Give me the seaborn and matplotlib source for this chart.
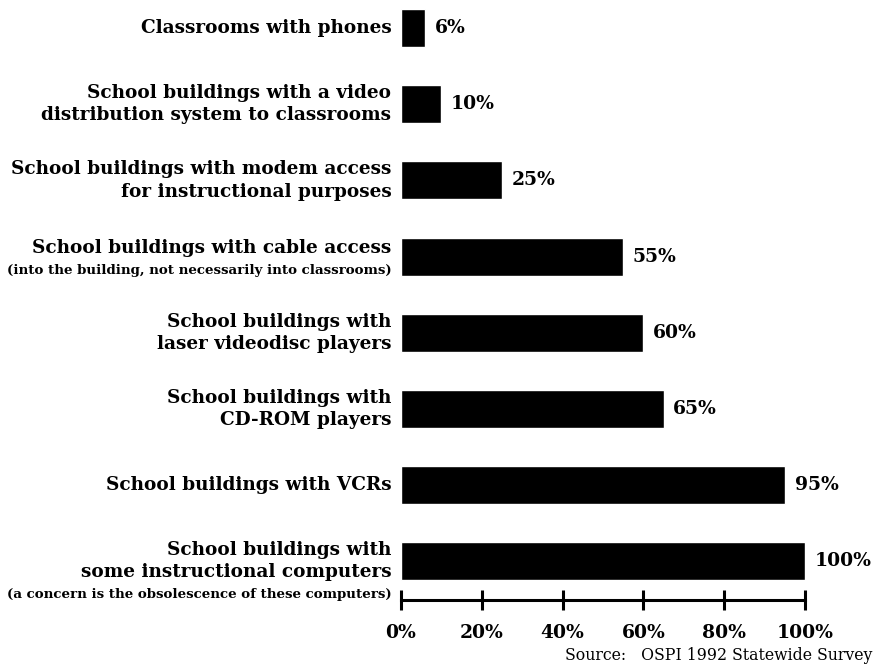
import matplotlib
matplotlib.use("Agg")
import matplotlib.pyplot as plt
import seaborn as sns
import pandas as pd

categories = [
    "Classrooms with phones",
    "School buildings with a video\ndistribution system to classrooms",
    "School buildings with modem access\nfor instructional purposes",
    "School buildings with cable access",
    "School buildings with\nlaser videodisc players",
    "School buildings with\nCD-ROM players",
    "School buildings with VCRs",
    "School buildings with\nsome instructional computers",
]
notes = [
    "", "", "",
    "(into the building, not necessarily into classrooms)",
    "", "", "",
    "(a concern is the obsolescence of these computers)",
]
values = [6, 10, 25, 55, 60, 65, 95, 100]
tick_values = [0, 20, 40, 60, 80, 100]
tick_labels = ["0%", "20%", "40%", "60%", "80%", "100%"]
source_text = "Source:   OSPI 1992 Statewide Survey"

df = pd.DataFrame({"cat": categories, "val": values})

sns.set_theme(style="white")
plt.rcParams["font.family"] = ["DejaVu Serif"]
plt.rcParams["text.color"] = "black"
plt.rcParams["xtick.color"] = "black"

fig = plt.figure(figsize=(8.75, 6.65), dpi=100)
ax = fig.add_axes([401 / 875, 65 / 665, 404 / 875, 600 / 665])

sns.barplot(data=df, y="cat", x="val", orient="h", color="black",
            width=0.5, saturation=1, ax=ax)

ax.set_xlim(0, 100)
ax.set_ylim(7.51, -0.37)
ax.set_ylabel("")
ax.set_xlabel("")
ax.set_yticks([])
for s in ["top", "right", "left"]:
    ax.spines[s].set_visible(False)
ax.spines["bottom"].set_color("black")
ax.spines["bottom"].set_linewidth(2.2)
ax.set_xticks(tick_values)
ax.set_xticklabels(tick_labels, fontsize=13.5, fontweight="bold", color="black")
ax.tick_params(axis="x", direction="inout", length=15, width=2.2,
               color="black", pad=10, bottom=True)

main_kw = dict(textcoords="offset points", ha="right", va="center",
               fontsize=13.3, fontweight="bold", linespacing=1.3,
               color="black", annotation_clip=False)
note_kw = dict(textcoords="offset points", ha="right", va="center",
               fontsize=9.6, fontweight="bold", color="black",
               annotation_clip=False)

for i, (cat, note, v) in enumerate(zip(categories, notes, values)):
    if note:
        nlines = cat.count("\n") + 1
        if nlines == 1:
            ax.annotate(cat, xy=(0, i), xytext=(-7, 6.5), **main_kw)
            ax.annotate(note, xy=(0, i), xytext=(-7, -10), **note_kw)
        else:
            ax.annotate(cat, xy=(0, i), xytext=(-7, 0), **main_kw)
            ax.annotate(note, xy=(0, i), xytext=(-7, -24), **note_kw)
    else:
        ax.annotate(cat, xy=(0, i), xytext=(-7, 0), **main_kw)
    ax.annotate(f"{v}%", xy=(v, i), xytext=(7, 0),
                textcoords="offset points", ha="left", va="center",
                fontsize=13.5, fontweight="bold", color="black",
                annotation_clip=False)

fig.text(872 / 875, 1 - 655 / 665, source_text, ha="right", va="center",
         fontsize=11.3, color="black")

fig.savefig("out.png", dpi=100)
